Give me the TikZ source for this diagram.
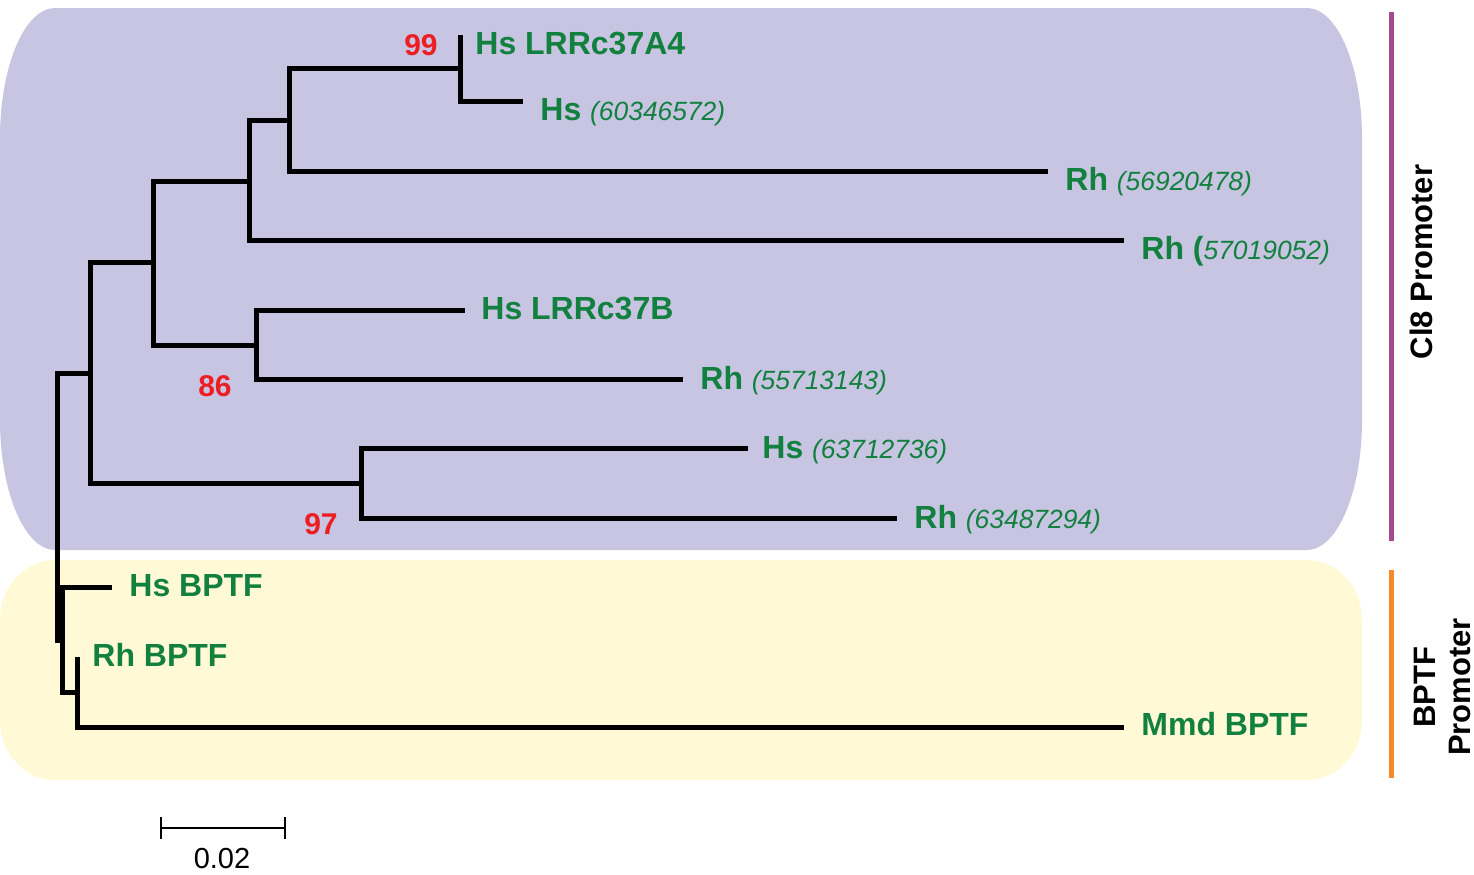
\documentclass[tikz,border=0pt]{standalone}
\usepackage{fontspec}
\setmainfont{Liberation Sans}
\usepackage{tikz}
\definecolor{cleight}{RGB}{200,197,226}
\definecolor{bptfbg}{RGB}{255,249,214}
\definecolor{leafgreen}{RGB}{18,128,62}
\definecolor{bootred}{RGB}{236,30,36}
\definecolor{cleightbar}{RGB}{165,74,140}
\definecolor{bptfbar}{RGB}{246,138,42}
\newcommand{\gid}[1]{{\fontsize{13.2}{15}\selectfont\mdseries\itshape #1}}

\begin{document}
\begin{tikzpicture}[x=0.5pt,y=-0.5pt]
      \tikzstyle{branch}=[line width=2.5pt,black]
      \tikzstyle{leaflab}=[anchor=base west,inner sep=0pt,text=leafgreen,
			      font=\fontsize{16}{19}\selectfont\bfseries]
      \tikzstyle{bootlab}=[anchor=base,inner sep=0pt,text=bootred,
			      font=\fontsize{15}{18}\selectfont\bfseries]
      \tikzstyle{sidelab}=[rotate=90,inner sep=0pt,align=center,
			      font=\fontsize{15.5}{17.5}\selectfont\bfseries]
      \useasboundingbox (0,0) rectangle (1474,874);
      % group backgrounds
      \fill[cleight] (55,8) -- (1307,8)
	  arc[start angle=-90,end angle=0,x radius=55,y radius=130] -- (1362,420)
	  arc[start angle=0,end angle=90,x radius=55,y radius=130] -- (55,550)
	  arc[start angle=90,end angle=180,x radius=55,y radius=130] -- (0,138)
	  arc[start angle=180,end angle=270,x radius=55,y radius=130] -- cycle;
      \fill[bptfbg] (55,560) -- (1307,560)
	  arc[start angle=-90,end angle=0,x radius=55,y radius=60] -- (1362,720)
	  arc[start angle=0,end angle=90,x radius=55,y radius=60] -- (55,780)
	  arc[start angle=90,end angle=180,x radius=55,y radius=60] -- (0,620)
	  arc[start angle=180,end angle=270,x radius=55,y radius=60] -- cycle;
      % tips
      \coordinate (tA4) at (460,35);
      \coordinate (tHs1) at (523,101);
      \coordinate (tRh1) at (1048,171);
      \coordinate (tRh2) at (1124,240);
      \coordinate (tB) at (465,310);
      \coordinate (tRh3) at (683,379);
      \coordinate (tHs4) at (748,448);
      \coordinate (tRh4) at (897,518);
      \coordinate (tHsB) at (112,587);
      \coordinate (tRhB) at (77,657);
      \coordinate (tMmd) at (1124,727);
      % inner nodes
      \coordinate (n99) at (460,68);
      \coordinate (nB) at (289,120);
      \coordinate (nC) at (249,181);
      \coordinate (n86) at (256,345);
      \coordinate (nE) at (153,262);
      \coordinate (n97) at (361,483);
      \coordinate (nG) at (90,373);
      \coordinate (nI) at (77,692);
      \coordinate (nJ) at (62,640);
      \coordinate (root) at (57,507);
      \draw[branch] (n99) |- (tA4);
      \draw[branch] (n99) |- (tHs1);
      \draw[branch] (nB) |- (n99);
      \draw[branch] (nB) |- (tRh1);
      \draw[branch] (nC) |- (nB);
      \draw[branch] (nC) |- (tRh2);
      \draw[branch] (n86) |- (tB);
      \draw[branch] (n86) |- (tRh3);
      \draw[branch] (nE) |- (nC);
      \draw[branch] (nE) |- (n86);
      \draw[branch] (n97) |- (tHs4);
      \draw[branch] (n97) |- (tRh4);
      \draw[branch] (nG) |- (nE);
      \draw[branch] (nG) |- (n97);
      \draw[branch] (nI) |- (tRhB);
      \draw[branch] (nI) |- (tMmd);
      \draw[branch] (nJ) |- (tHsB);
      \draw[branch] (nJ) |- (nI);
      \draw[branch] (root) |- (nG);
      \draw[branch] (root) |- (nJ);
      % leaf labels
      \node[leaflab] (lA4) at (475,54) {Hs LRRc37A4};
      \node[leaflab] (lHs1) at (540,120) {Hs \gid{(60346572)}};
      \node[leaflab] (lRh1) at (1065,190.5) {Rh \gid{(56920478)}};
      \node[leaflab] (lRh2) at (1141,259.5) {Rh (\gid{57019052)}};
      \node[leaflab] (lB) at (481,319.5) {Hs LRRc37B};
      \node[leaflab] (lRh3) at (700,389.5) {Rh \gid{(55713143)}};
      \node[leaflab] (lHs4) at (762,458.5) {Hs \gid{(63712736)}};
      \node[leaflab] (lRh4) at (914,528.5) {Rh \gid{(63487294)}};
      \node[leaflab] (lHsB) at (129,596.5) {Hs BPTF};
      \node[leaflab] (lRhB) at (92,666.5) {Rh BPTF};
      \node[leaflab] (lMmd) at (1141,735.5) {Mmd BPTF};
      % bootstrap values
      \node[bootlab] (b99) at (421,55) {99};
      \node[bootlab] (b86) at (215,396) {86};
      \node[bootlab] (b97) at (321,534) {97};
      % scale bar
      \coordinate (sL) at (161,828);
      \coordinate (sR) at (285,828);
      \draw[line width=1.2pt] (sL) -- (sR);
      \draw[line width=1.2pt] ([yshift=5.5pt]sL) -- ([yshift=-5.5pt]sL);
      \draw[line width=1.2pt] ([yshift=5.5pt]sR) -- ([yshift=-5.5pt]sR);
      \node[anchor=base,inner sep=0pt,font=\fontsize{14.5}{17}\selectfont]
	  (scale) at (222,868) {0.02};
      % group bars
      \draw[line width=2.5pt,cleightbar] (1391,12) -- (1391,541);
      \draw[line width=2.5pt,bptfbar] (1391,570) -- (1391,778);
      \node[sidelab] (gCl8) at (1421,262) {Cl8 Promoter};
      \node[sidelab] (gBPTF) at (1442,687) {BPTF\\Promoter};
  \end{tikzpicture}
\end{document}
